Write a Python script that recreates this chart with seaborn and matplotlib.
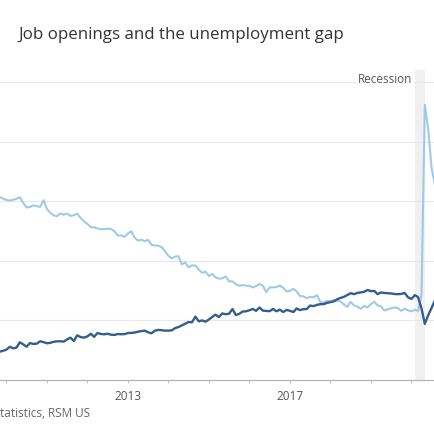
import pandas as pd
import matplotlib
matplotlib.use("Agg")
import matplotlib.pyplot as plt
import matplotlib.dates as mdates
import seaborn as sns

# monthly data, Oct 2009 - Jul 2020 (millions of people)
months = pd.period_range("2009-10", "2020-07", freq="M")

job_openings = [
    2.37, 2.45, 2.55,
    2.79, 2.66, 2.71, 3.16, 2.99, 2.79, 3.10, 3.02, 3.05, 3.25, 3.18, 3.08,
    3.12, 3.20, 3.24, 3.25, 3.22, 3.40, 3.55, 3.27, 3.75, 3.60, 3.55, 3.66,
    3.88, 3.62, 3.94, 3.86, 3.83, 3.88, 3.80, 3.78, 3.86, 3.84, 3.85, 3.94,
    3.95, 3.98, 4.05, 4.10, 4.14, 4.00, 3.92, 4.14, 4.20, 4.18, 4.14, 4.14,
    4.17, 4.35, 4.44, 4.58, 4.72, 4.86, 4.84, 5.32, 4.92, 5.00, 4.89, 5.08,
    5.30, 5.48, 5.28, 5.58, 5.52, 5.55, 5.95, 5.45, 5.55, 5.74, 5.76, 5.85,
    5.96, 5.80, 6.08, 5.82, 5.79, 5.77, 5.96, 5.76, 5.90, 5.70, 5.88, 5.80,
    5.70, 6.00, 5.86, 5.94, 5.95, 6.24, 6.20, 6.30, 6.36, 6.36, 6.47, 6.53,
    6.60, 6.77, 6.88, 6.97, 7.12, 7.28, 7.20, 7.30, 7.35, 7.40, 7.55, 7.45,
    7.47, 7.20, 7.34, 7.30, 7.28, 7.26, 7.21, 7.20, 7.22, 7.30, 6.94, 6.80,
    7.12, 6.95, 6.00, 4.70, 5.45, 6.05, 6.70,
]

unemployed = [
    15.35, 15.22, 15.10,
    15.05, 15.11, 15.20, 15.33, 14.85, 14.47, 14.51, 14.65, 14.58, 14.52, 15.08, 14.35,
    14.01, 13.82, 13.74, 13.96, 13.86, 13.96, 13.76, 13.82, 13.95, 13.59, 13.30, 13.09,
    12.80, 12.81, 12.71, 12.65, 12.66, 12.69, 12.66, 12.47, 12.12, 12.12, 12.01, 12.30,
    12.47, 11.95, 11.69, 11.76, 11.65, 11.75, 11.34, 11.28, 11.27, 11.14, 10.79, 10.40,
    10.20, 10.35, 10.38, 9.70, 9.86, 9.46, 9.61, 9.60, 9.26, 8.99, 9.09, 8.72,
    8.90, 8.61, 8.50, 8.53, 8.69, 8.28, 8.27, 8.03, 7.91, 7.96, 7.91, 7.90,
    7.76, 7.88, 8.05, 7.91, 7.36, 7.77, 7.77, 7.80, 7.93, 7.73, 7.43, 7.47,
    7.64, 7.44, 7.04, 7.02, 6.86, 6.97, 6.94, 7.11, 6.55, 6.50, 6.64, 6.60,
    6.71, 6.65, 6.58, 6.35, 6.13, 6.57, 6.25, 6.15, 5.97, 6.21, 6.09, 6.37,
    6.56, 6.26, 6.18, 5.83, 5.92, 6.01, 6.08, 6.04, 5.80, 5.97, 5.85, 5.75,
    5.89, 5.79, 7.14, 23.08, 20.99, 17.75, 16.34,
]

tick_years = [2013, 2017]
recession = ("2020-02-01", "2020-05-01")
y_grid = [5, 10, 15, 20, 25]

title = "Job openings and the unemployment gap"
# only the visible tail of the source line is shown in the cropped view
source = "tatistics, RSM US"

df = pd.DataFrame({
    "date": months.to_timestamp(how="end").normalize() + pd.Timedelta(days=1),
    "job_openings": job_openings,
    "unemployed": unemployed,
})

sns.set_theme(style="white")
plt.rcParams["font.family"] = ["Open Sans", "DejaVu Sans"]

fig = plt.figure(figsize=(4.35, 4.35), dpi=100)
# axes run past the figure edges on both sides (cropped view)
ax = fig.add_axes([0, 54 / 435, 1, 310 / 435])

ax.axvspan(pd.Timestamp(recession[0]), pd.Timestamp(recession[1]),
           color="#f0f0f0", lw=0, zorder=0)
for g in y_grid:
    ax.axhline(g, color="#e8e8e8", lw=0.8, zorder=1)

sns.lineplot(data=df, x="date", y="unemployed", color="#9fcae7", lw=1.5, ax=ax, zorder=3)
sns.lineplot(data=df, x="date", y="job_openings", color="#345e8d", lw=1.7, ax=ax, zorder=4)

t0 = pd.Timestamp("2013-01-01")
px_per_day = 162 / (pd.Timestamp("2017-01-01") - t0).days
ax.set_xlim(t0 - pd.Timedelta(days=128 / px_per_day), t0 + pd.Timedelta(days=307 / px_per_day))
ax.set_ylim(0, 26)

ax.set_xticks([pd.Timestamp(f"{y}-01-01") for y in tick_years])
ax.set_xticklabels([str(y) for y in tick_years])
ax.xaxis.set_minor_locator(mdates.YearLocator(1))
ax.tick_params(axis="x", which="both", direction="out", length=2.5, width=0.8,
               color="#c8c8c8", bottom=True, labelsize=8.5, labelcolor="#555555", pad=4.3)
ax.set_yticks([])
ax.set_xlabel("")
ax.set_ylabel("")
for s in ["left", "right", "top"]:
    ax.spines[s].set_visible(False)
ax.spines["bottom"].set_color("#b5b5b5")
ax.spines["bottom"].set_linewidth(0.9)

ax.text(pd.Timestamp("2020-01-10"), 25.3, "Recession", ha="right", va="center",
        fontsize=8.5, color="#555555", zorder=5,
        bbox=dict(facecolor="white", edgecolor="none", pad=1))

fig.text(18 / 435, 1 - 39 / 435, title, ha="left", va="baseline",
         fontsize=12.2, color="#333333")
fig.text(0.5 / 435, 1 - 417 / 435, source, ha="left", va="baseline",
         fontsize=8.5, color="#666666")

fig.savefig("out.png", dpi=100)
